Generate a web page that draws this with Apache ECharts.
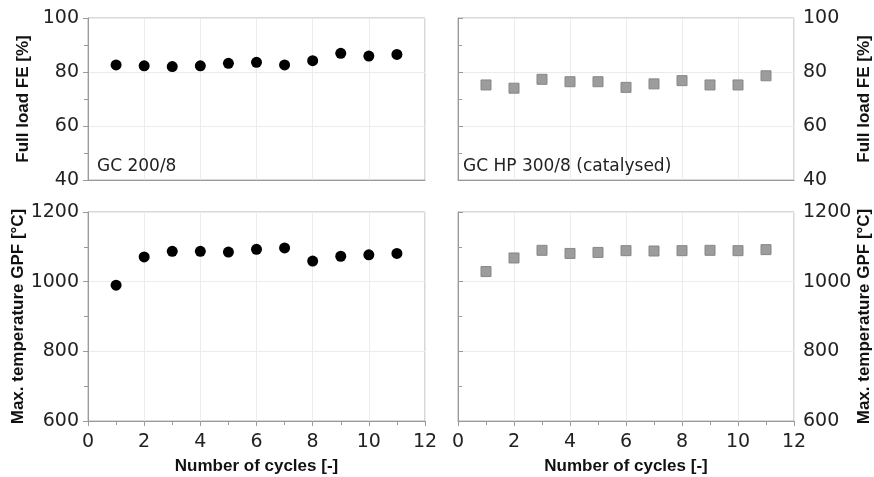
<!DOCTYPE html>
<html>
<head>
<meta charset="utf-8">
<script src="https://cdn.jsdelivr.net/npm/echarts@6/dist/echarts.min.js"></script>
<style>
  html, body { margin: 0; padding: 0; background: #fff; }
  #chart { width: 874px; height: 477px; }
</style>
</head>
<body>
<div id="chart"></div>
<script>
// Cycle numbers shared by all four panels
const cycles = [1, 2, 3, 4, 5, 6, 7, 8, 9, 10, 11];

// Full load filtration efficiency [%]
const feGC200 = [82.6, 82.3, 82.0, 82.3, 83.2, 83.6, 82.6, 84.2, 86.9, 85.9, 86.5];
const feGCHP300 = [75.2, 74.0, 77.3, 76.4, 76.4, 74.3, 75.6, 76.8, 75.2, 75.2, 78.6];

// Maximum GPF temperature [°C]
const tGC200 = [990, 1071, 1087, 1087, 1085, 1093, 1097, 1059, 1073, 1077, 1081];
const tGCHP300 = [1029, 1068, 1090, 1081, 1084, 1089, 1088, 1089, 1090, 1089, 1092];

const panelLabels = ['GC 200/8', 'GC HP 300/8 (catalysed)'];
const feAxisName = 'Full load FE [%]';
const tempAxisName = 'Max. temperature GPF [°C]';
const xAxisName = 'Number of cycles [-]';

const pairs = (ys) => cycles.map((c, i) => [c, ys[i]]);

const labelFont = { fontFamily: 'DejaVu Sans', fontSize: 19, color: '#222' };
const nameFont = { fontFamily: 'Liberation Sans', fontSize: 17, fontWeight: 'bold', color: '#111' };
const axisGray = '#9a9a9a';

const grids = [
  { left: 88, top: 18, width: 337, height: 162 },
  { left: 458, top: 18, width: 337, height: 162 },
  { left: 88, top: 212, width: 337, height: 209 },
  { left: 458, top: 212, width: 337, height: 209 }
].map(g => Object.assign({ show: true, borderColor: '#b0b0b0', borderWidth: 1, backgroundColor: '#fff' }, g));

function xAxis(gridIndex, labelled) {
  return {
    type: 'value', gridIndex, min: 0, max: 12, interval: 2,
    name: labelled ? xAxisName : '', nameLocation: 'middle', nameGap: 37,
    nameTextStyle: nameFont,
    axisLine: { show: true, lineStyle: { color: axisGray } },
    axisTick: { show: labelled, length: 5, lineStyle: { color: axisGray } },
    minorTick: { show: labelled, splitNumber: 2, length: 4, lineStyle: { color: axisGray } },
    axisLabel: { show: labelled, margin: 12, ...labelFont },
    splitLine: { show: true, lineStyle: { color: '#ececec' } }
  };
}

function yAxis(gridIndex, min, max, interval, name, right) {
  return {
    type: 'value', gridIndex, min, max, interval,
    position: right ? 'right' : 'left',
    name, nameLocation: 'middle', nameRotate: 90, nameGap: right ? 62 : 56,
    nameTextStyle: nameFont,
    axisLine: { show: true, lineStyle: { color: axisGray } },
    axisTick: { show: true, length: 5, lineStyle: { color: axisGray } },
    minorTick: { show: true, splitNumber: 2, length: 4, lineStyle: { color: axisGray } },
    axisLabel: { margin: 9, formatter: v => String(v), ...labelFont },
    splitLine: { show: true, lineStyle: { color: '#ececec' } }
  };
}

const circleStyle = { color: '#000', opacity: 1 };
const squareStyle = { color: '#9c9c9c', borderColor: '#878787', borderWidth: 1, opacity: 1 };

const option = {
  animation: false,
  backgroundColor: '#fff',
  grid: grids,
  xAxis: [xAxis(0, false), xAxis(1, false), xAxis(2, true), xAxis(3, true)],
  yAxis: [
    yAxis(0, 40, 100, 20, feAxisName, false),
    yAxis(1, 40, 100, 20, feAxisName, true),
    yAxis(2, 600, 1200, 200, tempAxisName, false),
    yAxis(3, 600, 1200, 200, tempAxisName, true)
  ],
  graphic: [
    { type: 'text', z: 100, left: 97, top: 158, style: { text: panelLabels[0], font: '17px "DejaVu Sans"', fill: '#222' } },
    { type: 'text', z: 100, left: 463, top: 158, style: { text: panelLabels[1], font: '17px "DejaVu Sans"', fill: '#222' } }
  ],
  series: [
    { type: 'scatter', xAxisIndex: 0, yAxisIndex: 0, symbol: 'circle', symbolSize: 11, itemStyle: circleStyle, data: pairs(feGC200) },
    { type: 'scatter', xAxisIndex: 1, yAxisIndex: 1, symbol: 'rect', symbolSize: 10, itemStyle: squareStyle, data: pairs(feGCHP300) },
    { type: 'scatter', xAxisIndex: 2, yAxisIndex: 2, symbol: 'circle', symbolSize: 11, itemStyle: circleStyle, data: pairs(tGC200) },
    { type: 'scatter', xAxisIndex: 3, yAxisIndex: 3, symbol: 'rect', symbolSize: 10, itemStyle: squareStyle, data: pairs(tGCHP300) }
  ]
};

echarts.init(document.getElementById('chart')).setOption(option);
</script>
</body>
</html>
